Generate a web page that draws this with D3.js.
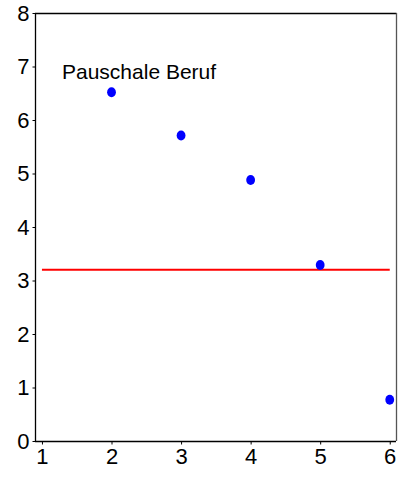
<!DOCTYPE html>
<html>
<head>
<meta charset="utf-8">
<script src="https://cdn.jsdelivr.net/npm/d3@7"></script>
<style>
  html, body { margin: 0; padding: 0; background: #fff; }
  svg { display: block; font-family: "Liberation Sans", Arial, sans-serif; }
</style>
</head>
<body>
<svg id="chart" width="401" height="477"></svg>
<script>
// Series: position on the x scale and its value
const xValues = [2, 3, 4, 5, 6];
const yValues = [6.52, 5.71, 4.88, 3.29, 0.77];
// Horizontal reference level drawn across the x range
const refLevel = 3.2;
const refRange = [1, 6];
// Tick labels
const xTicks = [1, 2, 3, 4, 5, 6];
const yTicks = [0, 1, 2, 3, 4, 5, 6, 7, 8];
const label = "Pauschale Beruf";

const svg = d3.select("#chart");
const plotLeft = 35, plotRight = 396, plotTop = 13, plotBottom = 441;

const x = d3.scaleLinear().domain([0.9, 6.09]).range([plotLeft, plotRight]);
const y = d3.scaleLinear().domain([0, 8]).range([plotBottom, plotTop]);

// Frame: top and right edges
svg.append("line")
  .attr("x1", plotLeft).attr("x2", plotRight + 0.5)
  .attr("y1", plotTop + 0.5).attr("y2", plotTop + 0.5)
  .attr("stroke", "#000").attr("stroke-width", 1.3);
svg.append("line")
  .attr("x1", plotRight + 0.5).attr("x2", plotRight + 0.5)
  .attr("y1", plotTop).attr("y2", plotBottom)
  .attr("stroke", "#555").attr("stroke-width", 1.3);

// Axes
const yAxis = svg.append("g")
  .attr("transform", `translate(${plotLeft + 0.5},0)`)
  .call(d3.axisLeft(y).tickValues(yTicks).tickSize(3).tickPadding(3).tickFormat(d3.format("d")));
const xAxis = svg.append("g")
  .attr("transform", `translate(0,${plotBottom + 0.5})`)
  .call(d3.axisBottom(x).tickValues(xTicks).tickSize(3).tickPadding(4).tickFormat(d3.format("d")));

[yAxis, xAxis].forEach(g => {
  g.select(".domain").attr("stroke", "#000").attr("stroke-width", 1.3);
  g.selectAll(".tick line").attr("stroke", "#000");
  g.selectAll(".tick text")
    .attr("fill", "#000")
    .style("font-size", "22px")
    .style("font-family", "\"Liberation Sans\", Arial, sans-serif");
});
yAxis.select(".domain").attr("d", `M0,${plotTop}V${plotBottom}`);
xAxis.select(".domain").attr("d", `M${plotLeft},0H${plotRight}`);

// Reference line
svg.append("line")
  .attr("x1", x(refRange[0])).attr("x2", x(refRange[1]))
  .attr("y1", y(refLevel)).attr("y2", y(refLevel))
  .attr("stroke", "#ff0000").attr("stroke-width", 2);

// Points
svg.append("g").selectAll("ellipse")
  .data(xValues.map((v, i) => [v, yValues[i]]))
  .join("ellipse")
  .attr("cx", d => x(d[0]))
  .attr("cy", d => y(d[1]))
  .attr("rx", 4.4).attr("ry", 5)
  .attr("fill", "#0000ff");

// Annotation
svg.append("text")
  .attr("x", 62).attr("y", 79)
  .attr("fill", "#000")
  .style("font-size", "21px")
  .text(label);
</script>
</body>
</html>
